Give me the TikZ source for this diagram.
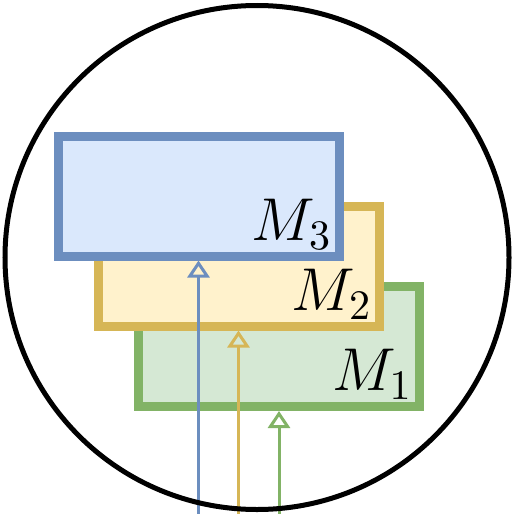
\documentclass[tikz,border=0pt]{standalone}
\usepackage{tikz}
\usetikzlibrary{arrows.meta}

\definecolor{mbluefill}{HTML}{DAE8FC}  \definecolor{mblueline}{HTML}{6C8EBF}
\definecolor{myellowfill}{HTML}{FFF2CC}\definecolor{myellowline}{HTML}{D6B656}
\definecolor{mgreenfill}{HTML}{D5E8D4} \definecolor{mgreenline}{HTML}{82B366}

\begin{document}
\begin{tikzpicture}[x=0.5pt, y=-0.5pt,
  box/.style={rectangle, line width=4.5pt, minimum width=140.5pt, minimum height=60pt, inner sep=0pt},
  lbl/.style={inner sep=2.5pt, font=\Large, scale=2.1, transform shape},
  arr/.style={line width=1.5pt, -{Triangle[open, width=11pt, length=8.5pt]}}]
  \useasboundingbox (0,0) rectangle (512,514);
  % the three boxes, back to front
  \foreach \i/\c/\x/\y in {1/mgreen/279/346.5, 2/myellow/238.5/266, 3/mblue/198.5/196} {
    \node[box, draw=\c line, fill=\c fill] (m\i) at (\x,\y) {};
    \node[lbl, anchor=south east] (l\i) at (m\i.south east) {$M_\i$};
  }
  % inputs from below
  \foreach \i/\c in {1/mgreen, 2/myellow, 3/mblue} {
    \coordinate (in\i) at (m\i.south |- 0,514);
    \draw[arr, \c line] (in\i) -- (m\i.south);
  }
  \draw[line width=2.5pt] (257,257.5) circle (252);
\end{tikzpicture}
\end{document}
